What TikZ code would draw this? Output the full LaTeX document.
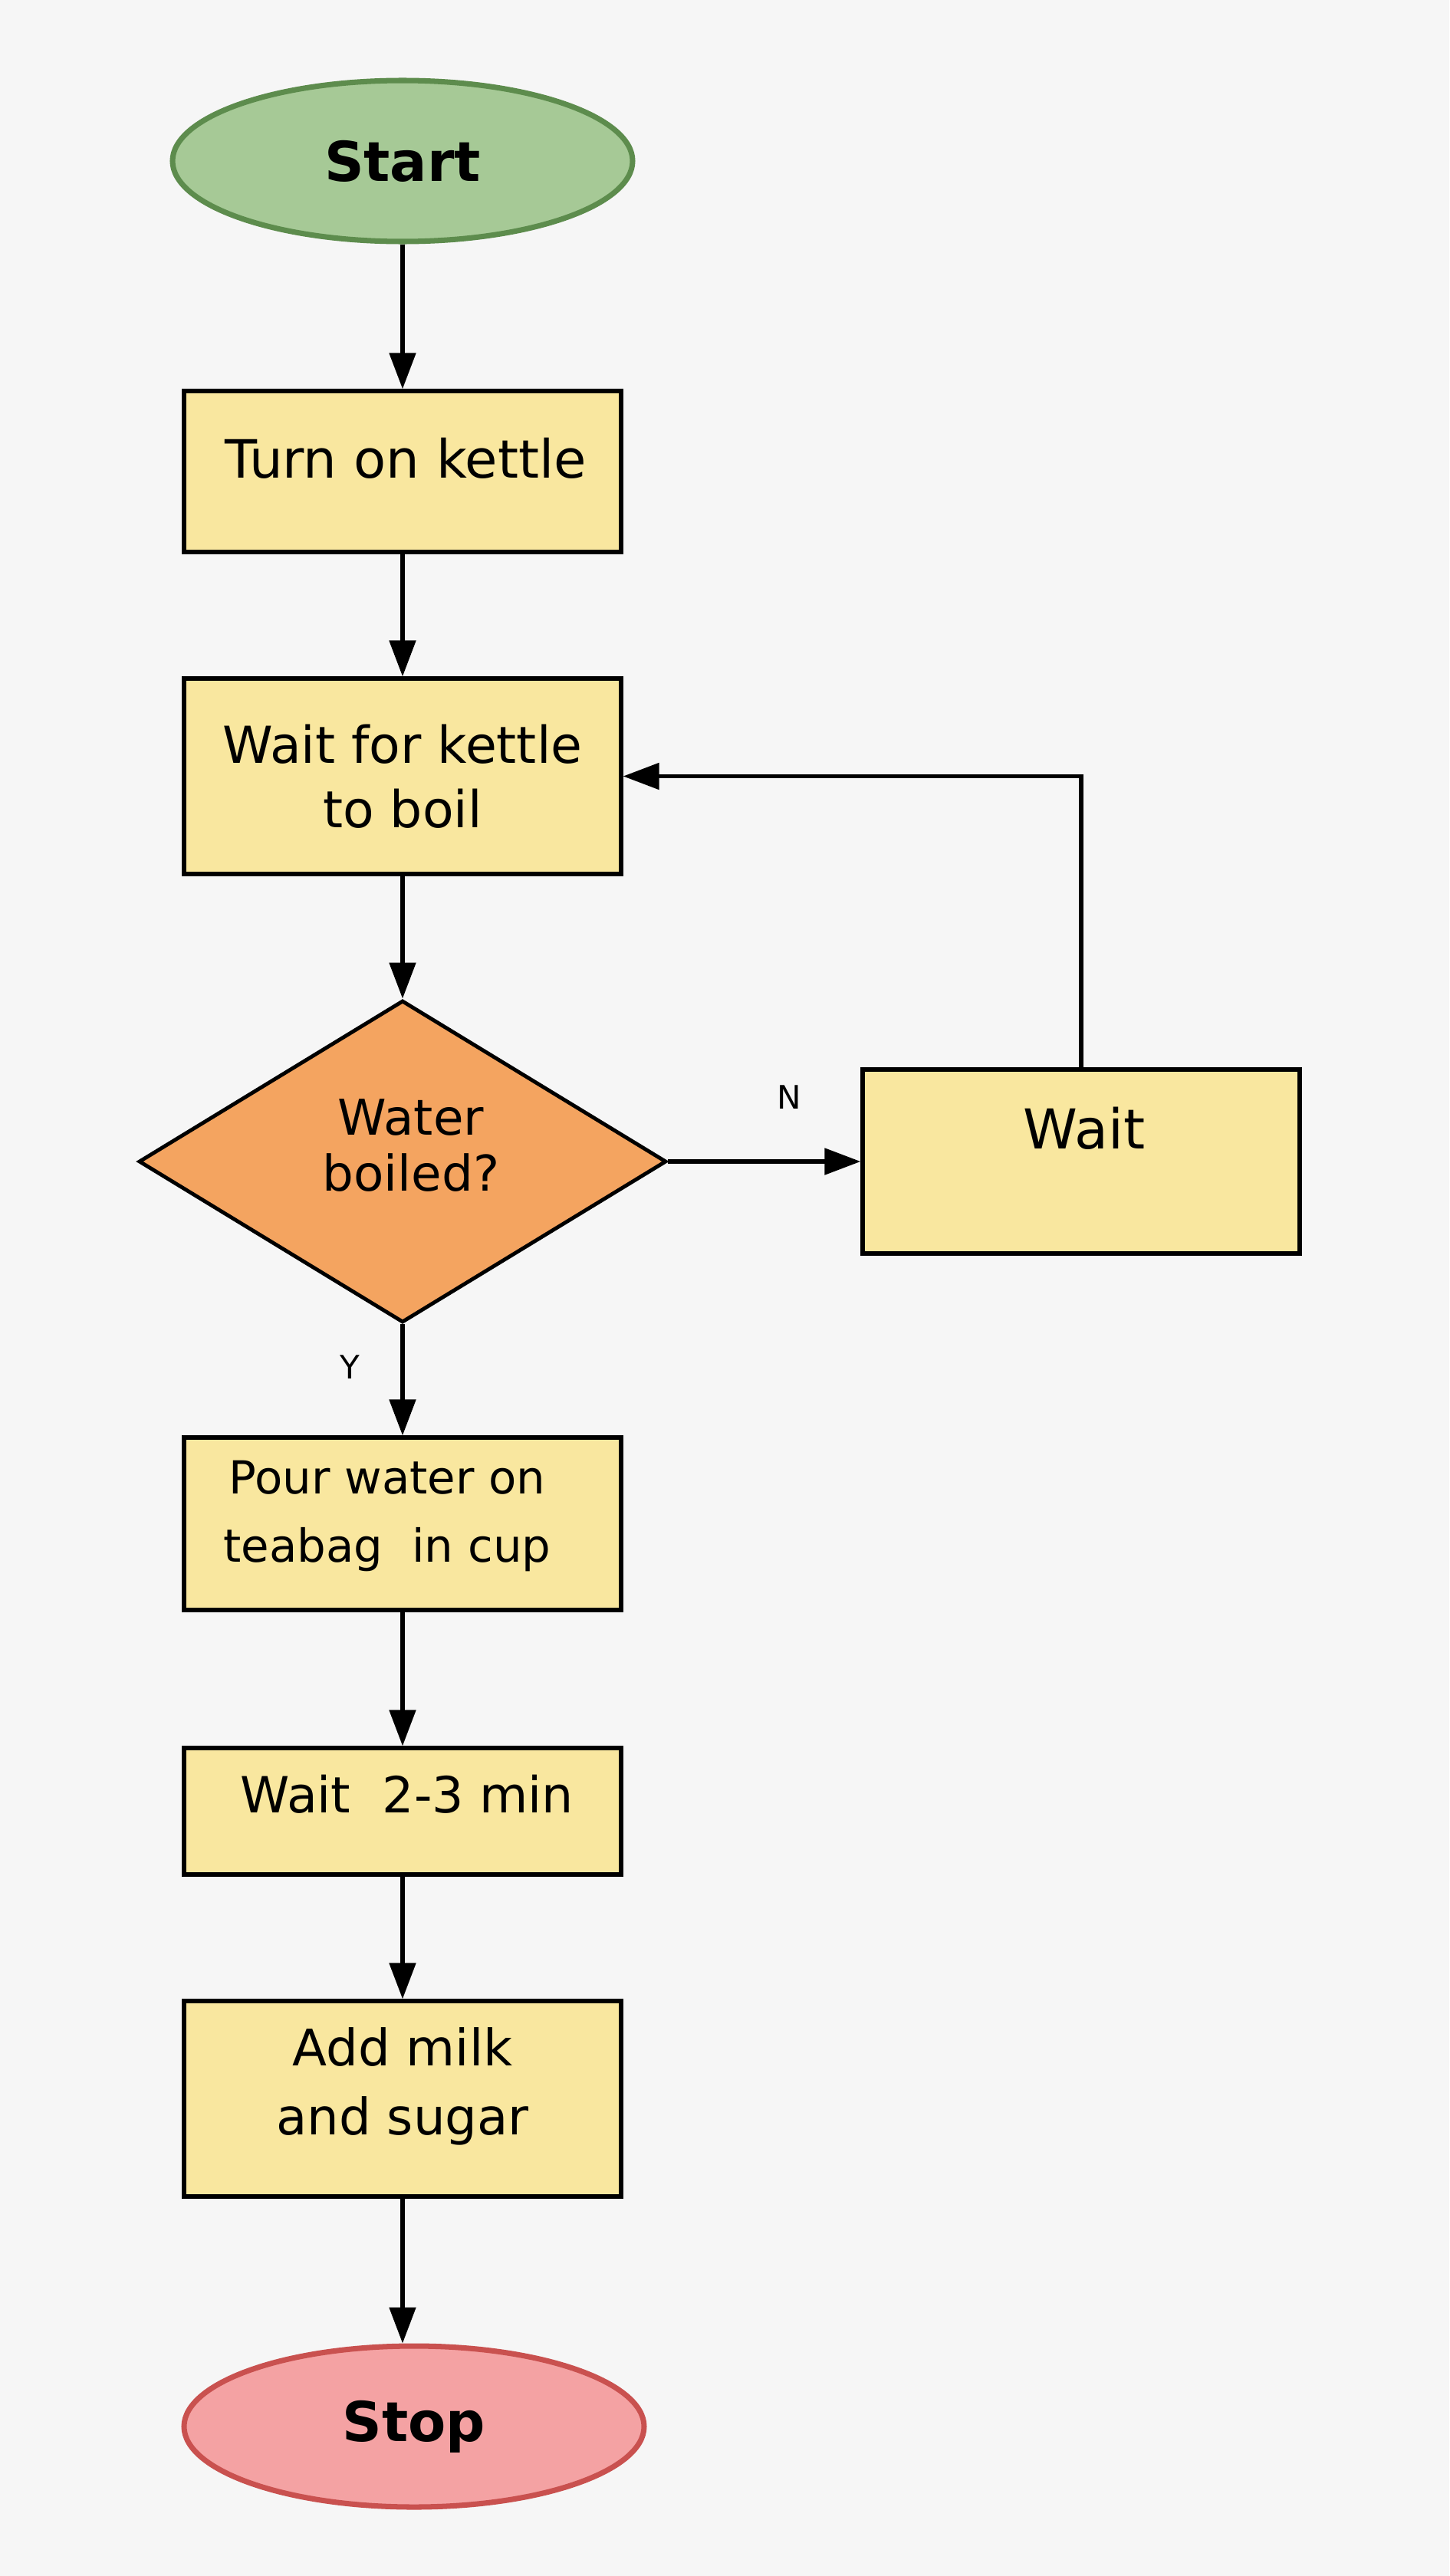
\documentclass[tikz,border=0pt]{standalone}
\usepackage{fontspec}
\setmainfont{DejaVu Sans}
\usepackage{tikz}
\usepackage{xcolor}
\usetikzlibrary{shapes.geometric, arrows.meta}
\definecolor{pagebg}{HTML}{F6F6F6}
\definecolor{boxfill}{HTML}{F9E79F}
\definecolor{startfill}{HTML}{A6C996}
\definecolor{startline}{HTML}{5D8C4D}
\definecolor{stopfill}{HTML}{F4A2A3}
\definecolor{stopline}{HTML}{C9514F}
\definecolor{decisionfill}{HTML}{F4A460}
\tikzset{
    step-box/.style = {draw=black, fill=boxfill, line width=1.5pt, rectangle, minimum width=5.7cm, inner sep=0pt},
    end-oval/.style = {ellipse, line width=2pt, minimum width=6cm, minimum height=2.1cm, inner sep=0pt, font=\fontsize{20.4}{24}\selectfont\bfseries},
    decision/.style = {diamond, draw=black, fill=decisionfill, line width=1.4pt, minimum width=6.88cm, minimum height=4.2cm, inner sep=0pt},
    box-text/.style = {align=center, font=\fontsize{18.5}{24.5}\selectfont},
    flow/.style = {-{Triangle[length=4.7mm, width=3.4mm]}, line width=1.5pt},
    branch-label/.style = {font=\fontsize{12}{14}\selectfont},
}
\begin{document}
\begin{tikzpicture}
\useasboundingbox (0,0) rectangle (18.9,-33.6);
\fill[pagebg] (0,0) rectangle (18.9,-33.6);

\node[end-oval, draw=startline, fill=startfill] (start) at (5.25,-2.10) {Start};
\node[step-box, minimum height=2.1cm, label={[box-text, font=\fontsize{19.6}{24}\selectfont, xshift=0.4mm, yshift=1.7mm]center:Turn on kettle}] (kettle) at (5.25,-6.15) {};
\node[step-box, minimum height=2.55cm, box-text, font=\fontsize{18.9}{24}\selectfont] (boil) at (5.25,-10.125) {Wait for kettle\\to boil};
\node[decision, label={[box-text, font=\fontsize{18.3}{20.7}\selectfont, xshift=1.1mm, yshift=2.1mm]center:Water\\boiled?}] (boiled) at (5.25,-15.15) {};
\node[step-box, minimum height=2.4cm, label={[box-text, font=\fontsize{20.4}{24}\selectfont, xshift=0.4mm, yshift=4.3mm]center:Wait}] (wait) at (14.10,-15.15) {};
\node[step-box, minimum height=2.25cm, label={[box-text, font=\fontsize{16.9}{25.5}\selectfont, xshift=-2mm, yshift=1.0mm]center:Pour water on\\teabag\ \ in cup}] (pour) at (5.25,-19.875) {};
\node[step-box, minimum height=1.65cm, label={[box-text, xshift=0.6mm, yshift=2.25mm]center:Wait\ \ 2-3 min}] (steep) at (5.25,-23.625) {};
\node[step-box, minimum height=2.55cm, label={[box-text, font=\fontsize{18.7}{25.5}\selectfont, yshift=1.6mm]center:Add milk\\and sugar}] (milk) at (5.25,-27.375) {};
\node[end-oval, draw=stopline, fill=stopfill] (stop) at (5.40,-31.65) {Stop};

\node[branch-label] (no-label) at (10.29,-14.31) {N};
\node[branch-label] (yes-label) at (4.56,-17.83) {Y};

\draw[flow] (start) -- (kettle);
\draw[flow] (kettle) -- (boil);
\draw[flow] (boil) -- (boiled);
\draw[flow] (boiled) -- (wait);
\draw[flow] (wait.north) |- (boil.east);
\draw[flow] (boiled) -- (pour);
\draw[flow] (pour) -- (steep);
\draw[flow] (steep) -- (milk);
\draw[flow] (milk) -- (milk |- stop.north);
\end{tikzpicture}
\end{document}
